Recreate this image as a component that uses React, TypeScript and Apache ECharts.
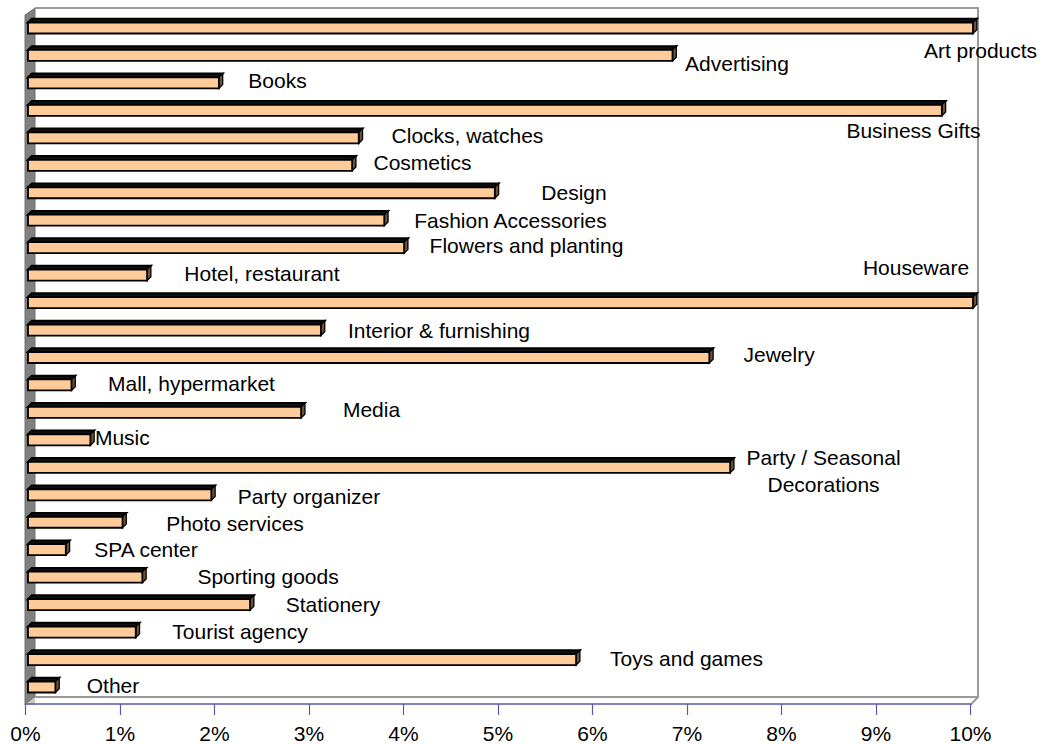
import React, { useEffect, useRef } from "react";
import * as echarts from "echarts";

const categories: string[] = [
  "Art products",
  "Advertising",
  "Books",
  "Business Gifts",
  "Clocks, watches",
  "Cosmetics",
  "Design",
  "Fashion Accessories",
  "Flowers and planting",
  "Hotel, restaurant",
  "Houseware",
  "Interior & furnishing",
  "Jewelry",
  "Mall, hypermarket",
  "Media",
  "Music",
  "Party / Seasonal\nDecorations",
  "Party organizer",
  "Photo services",
  "SPA center",
  "Sporting goods",
  "Stationery",
  "Tourist agency",
  "Toys and games",
  "Other",
];

// share of respondents, %
const values: number[] = [
  10.0, 6.82, 2.02, 9.67, 3.5, 3.43, 4.94, 3.77, 3.98, 1.26, 10.0, 3.1, 7.21,
  0.46, 2.89, 0.66, 7.43, 1.94, 1.0, 0.4, 1.21, 2.35, 1.14, 5.8, 0.29,
];

const tickLabels: string[] = ["0%", "1%", "2%", "3%", "4%", "5%", "6%", "7%", "8%", "9%", "10%"];

// label placement (pixel offsets of label centre from the bar's end)
const labelDx: number[] = [
  7.5, 64.5, 58.6, -28.3, 108.7, 70.4, 79.2, 126.2, 122.4, 114.9, -57, 118,
  69.7, 120, 70.4, 32, 93.4, 97.7, 112.5, 80.2, 125.7, 82.9, 104.3, 110.4, 57.6,
];
const labelDy: number[] = [
  22.5, 8, -2, 20.5, -2, -3, 0, 0, -2, -1.5, -35, 0.5, -3, -1.5, -3, -2.5, 3.5,
  1.5, 1, -0.5, -1, -0.5, -1, -1, -2,
];

const FONT = "'Liberation Sans', Arial, sans-serif";

export default function App() {
  const ref = useRef<HTMLDivElement>(null);
  useEffect(() => {
    if (!ref.current) return;
    const chart = echarts.init(ref.current, undefined, { renderer: "svg" });
    const SHIFT_X = 2.5;
    const SHIFT_Y = -3.25;
    const H = 11;
    const D = 3.8;
    const option: any = {
      animation: false,
      backgroundColor: "#ffffff",
      grid: { left: 25.5, right: 77.5, top: 17.5, bottom: 39, containLabel: false },
      xAxis: {
        type: "value",
        min: 0,
        max: 10,
        interval: 1,
        axisLine: { show: true, lineStyle: { color: "#5a5aa8", width: 1.5 } },
        axisTick: { show: true, length: 11, lineStyle: { color: "#5a5aa8", width: 1.2 } },
        splitLine: { show: false },
        axisLabel: {
          margin: 19,
          color: "#000",
          fontSize: 21,
          fontFamily: FONT,
          formatter: (v: number) => tickLabels[Math.round(v)],
        },
      },
      yAxis: {
        type: "category",
        data: categories,
        inverse: true,
        show: false,
      },
      graphic: [
        {
          type: "polygon",
          z: 0,
          shape: { points: [[25, 15], [35, 8], [35, 697], [25, 705]] },
          style: { fill: "#808080", stroke: "#707070", lineWidth: 1 },
        },
        {
          type: "polygon",
          z: 0,
          shape: { points: [[25, 705], [35, 697], [35, 705]] },
          style: { fill: "#c8c8c8" },
        },
        {
          type: "polyline",
          z: 0,
          shape: { points: [[35, 8], [978, 8], [978, 697], [35, 697]] },
          style: { fill: null, stroke: "#9a9a9a", lineWidth: 2 },
        },
        {
          type: "line",
          z: 0,
          shape: { x1: 970.5, y1: 705, x2: 978, y2: 697 },
          style: { stroke: "#9a9a9a", lineWidth: 2 },
        },
      ],
      series: [
        {
          type: "custom",
          clip: false,
          z: 5,
          encode: { x: 0, y: 1 },
          data: values.map((v, i) => [v, i]),
          renderItem: (params: any, api: any) => {
            const v = api.value(0);
            const i = api.value(1);
            const p0 = api.coord([0, i]);
            const p1 = api.coord([v, i]);
            const x0 = p0[0] + SHIFT_X;
            const x1 = p1[0] + SHIFT_X;
            const yc = p0[1] + SHIFT_Y;
            const top = yc - H / 2;
            const bot = yc + H / 2;
            return {
              type: "group",
              children: [
                {
                  type: "polygon",
                  shape: { points: [[x0, top], [x0 + D, top - D], [x1 + D, top - D], [x1, top]] },
                  style: { fill: "#111", stroke: "#000", lineWidth: 2 },
                },
                {
                  type: "polygon",
                  shape: { points: [[x1, top], [x1 + D, top - D], [x1 + D, bot - D], [x1, bot]] },
                  style: { fill: "#6e5238", stroke: "#000", lineWidth: 1.3 },
                },
                {
                  type: "rect",
                  shape: { x: x0, y: top, width: x1 - x0, height: H },
                  style: { fill: "#FFCC99", stroke: "#000", lineWidth: 1.8 },
                },
                {
                  type: "text",
                  x: x1 + labelDx[i],
                  y: yc + labelDy[i],
                  style: {
                    text: categories[i],
                    fill: "#000",
                    font: `21px ${FONT}`,
                    align: "center",
                    verticalAlign: "middle",
                    lineHeight: 27,
                  },
                },
              ],
            };
          },
        },
      ],
    };
    chart.setOption(option);
    return () => chart.dispose();
  }, []);
  return (
    <div
      ref={ref}
      style={{ position: "absolute", left: 0, top: 0, width: 1048, height: 744 }}
    />
  );
}
